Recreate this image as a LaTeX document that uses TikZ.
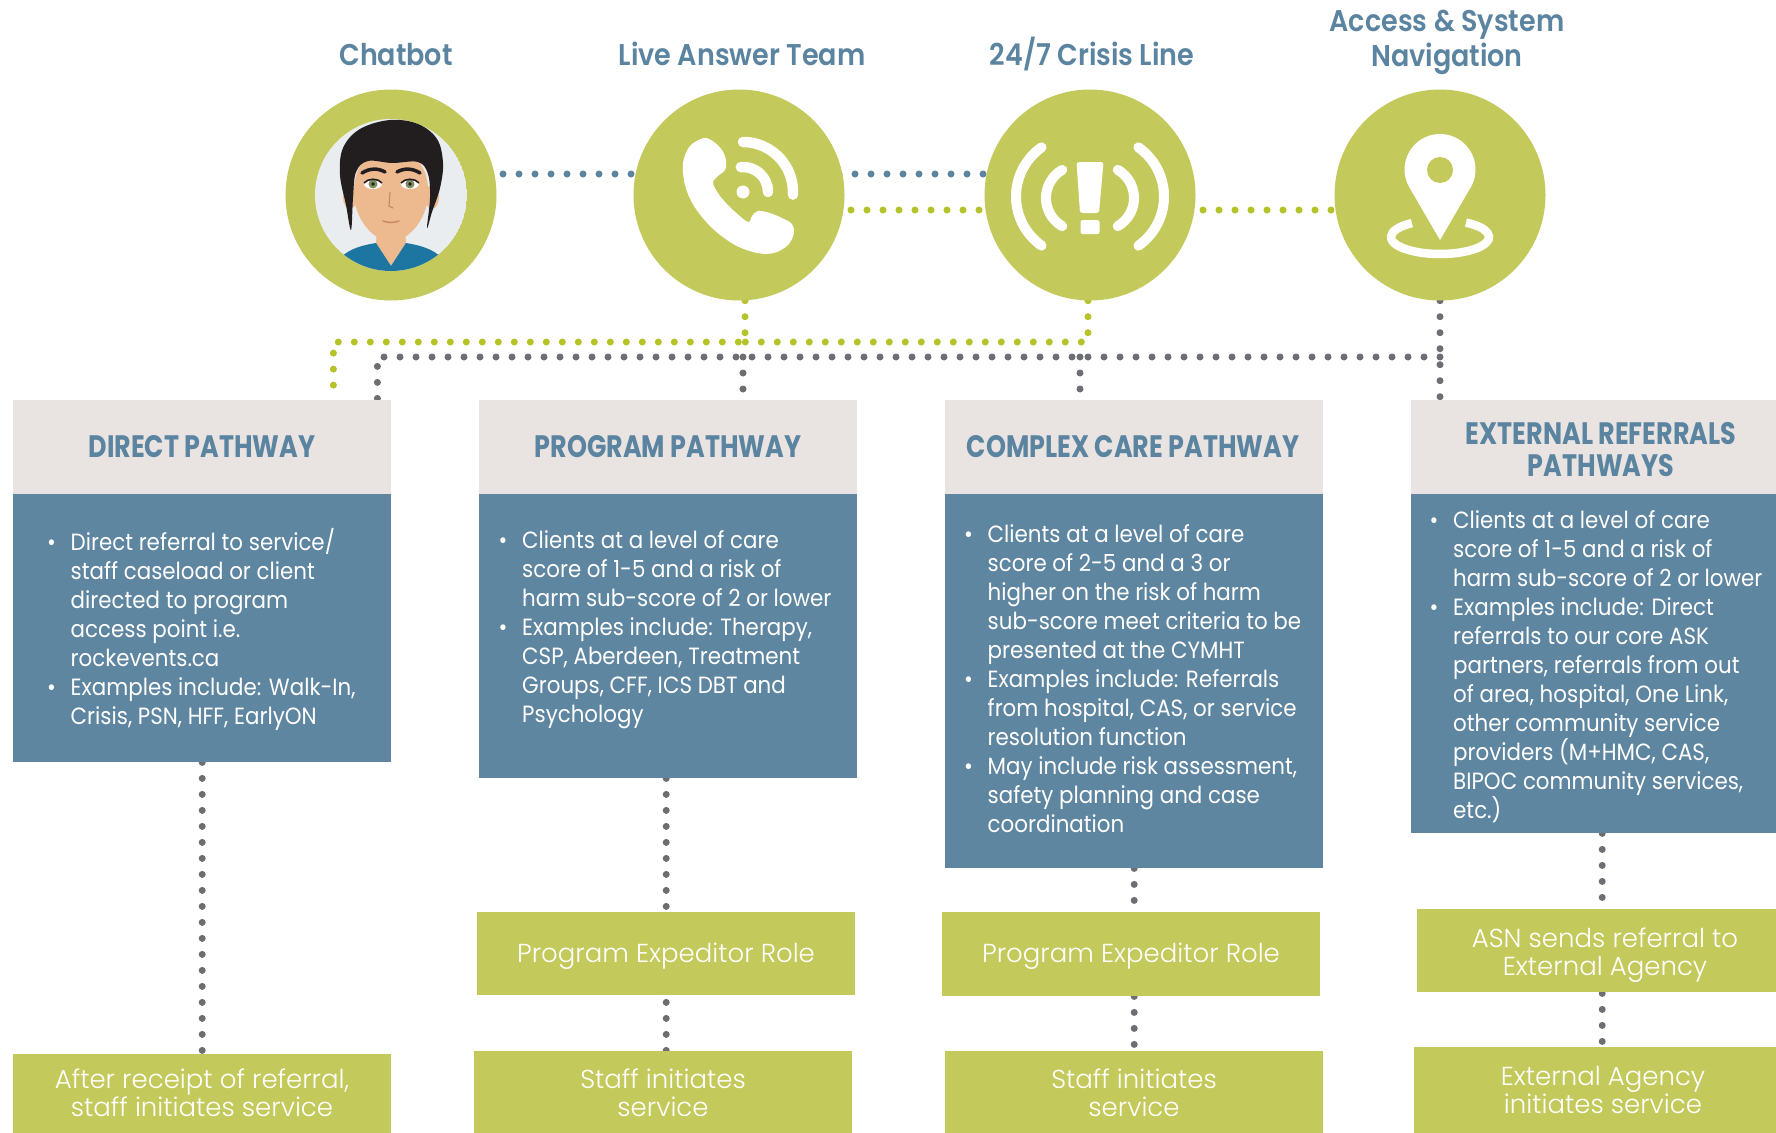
\documentclass[tikz,border=0pt]{standalone}
\usepackage{fontspec}
\setmainfont{Poppins}[UprightFont=* Light, BoldFont=* SemiBold]
\newfontfamily\headfont{Poppins}[UprightFont=* Bold, FakeStretch=0.82]
\newfontfamily\tfont{Poppins}[UprightFont=* SemiBold, FakeStretch=0.9]
\newfontfamily\bodyfont{Poppins}[FakeStretch=0.91]
\setlength{\parindent}{0pt}

\definecolor{leaf}{HTML}{C4C95C}
\definecolor{slate}{HTML}{5E86A0}
\definecolor{titleblue}{HTML}{5B84A0}
\definecolor{mist}{HTML}{E9E4E2}
\definecolor{dotgray}{HTML}{6D6E71}
\definecolor{dotgreen}{HTML}{B5C22A}
\definecolor{dotblue}{HTML}{5B84A0}
\definecolor{skin}{HTML}{EDB98F}
\definecolor{skindark}{HTML}{C98A62}
\definecolor{hair}{HTML}{221E1F}
\definecolor{facebg}{HTML}{E9EDEF}
\definecolor{shirt}{HTML}{1D76A2}
\definecolor{iris}{HTML}{7D8F5E}

\newcommand{\bulitem}{\makebox[23.5pt][l]{•}}
\newcommand{\contind}{\hspace*{23.5pt}}

\pgfdeclarelayer{bottom}
\pgfdeclarelayer{links}
\pgfsetlayers{bottom,links,main}

\tikzset{
  hub/.style={circle, fill=leaf, minimum size=211pt, inner sep=0pt},
  hdrbox/.style={rectangle, fill=mist, minimum width=378pt, minimum height=94pt, inner sep=0pt, anchor=north west},
  bodybox/.style={rectangle, fill=slate, minimum width=378pt, inner sep=0pt, anchor=north west},
  stepbox/.style={rectangle, fill=leaf, minimum width=378pt, inner sep=0pt, anchor=north west},
  dotline/.style={line width=7pt, dash pattern=on 0pt off 16pt, line cap=round},
  iconline/.style={white, line width=10.5pt, line cap=round},
  titletext/.style={anchor=base, inner sep=0pt, text=titleblue, font={\tfont\fontsize{30}{35}\selectfont}},
  hdrtext/.style={anchor=base, inner sep=0pt, text=titleblue, font={\headfont\fontsize{31}{32.7}\selectfont}},
  listtext/.style={anchor=base west, inner sep=0pt, text=white, font={\bodyfont\fontsize{23.5}{29}\selectfont}},
  steptext/.style={anchor=base, inner sep=0pt, text=white, font={\fontsize{26}{28.6}\selectfont}}
}

\begin{document}
\begin{tikzpicture}[x=1pt,y=-1pt]
\useasboundingbox (0,0) rectangle (1776,1132);
\clip (0,0) rectangle (1776,1132);
\begin{pgfonlayer}{bottom}
  \fill[white] (0,0) rectangle (1776,1132);
\end{pgfonlayer}

% ---------- entry points ----------
\node[hub] (chat) at (391,195) {};
\node[hub] (phone) at (739,195) {};
\node[hub] (crisis) at (1090,195) {};
\node[hub] (loc) at (1440,195) {};

\node[titletext] (chat-t) at (396,65) {Chatbot};
\node[titletext] (phone-t) at (742,65) {Live Answer Team};
\node[titletext] (crisis-t) at (1092,65) {24/7 Crisis Line};
\node[titletext] (loc-t) at (1447,31.7) {\begin{tabular}[t]{@{}c@{}}Access \& System\\Navigation\end{tabular}};

% chatbot avatar
\begin{scope}
  \clip (391,195) circle[radius=76];
  \fill[facebg] (391,195) circle[radius=76];
  \fill[skin] (377,220) -- (405,220) -- (406,246) -- (391,266) -- (376,246) -- cycle;
  \fill[shirt] (330,275) -- (340,258) .. controls (350,248) and (364,245) .. (376,243) -- (391,266) -- (406,243) .. controls (418,245) and (432,248) .. (442,258) -- (452,275) -- cycle;
  \fill[skin] (350,197) ellipse[x radius=7, y radius=12];
  \fill[skin] (432,197) ellipse[x radius=7, y radius=12];
  \fill[skin] (391,150) .. controls (418,150) and (429,170) .. (428,195) .. controls (427,220) and (408,241) .. (391,242) .. controls (374,241) and (355,220) .. (354,195) .. controls (353,170) and (364,150) .. (391,150) -- cycle;
  \fill[hair] plot[smooth cycle, tension=0.6] coordinates {(351,230) (346,205) (340,175) (343,148) (360,129) (390,120) (418,124) (437,139) (443,163) (440,188) (432,212) (427,228) (430,198) (428,174) (418,162) (392,163) (368,161) (356,172) (353,198)};
  \draw[hair, line width=3.5pt, line cap=round] (362,173) .. controls (370,168) and (378,168) .. (385,172);
  \draw[hair, line width=3.5pt, line cap=round] (397,172) .. controls (404,168) and (412,168) .. (420,173);
  \fill[white] (373,184) ellipse[x radius=9, y radius=5];
  \fill[white] (410,184) ellipse[x radius=9, y radius=5];
  \fill[iris] (373,184) circle[radius=4.5];
  \fill[iris] (410,184) circle[radius=4.5];
  \fill[hair] (373,184) circle[radius=1.8];
  \fill[hair] (410,184) circle[radius=1.8];
  \draw[hair, line width=1.6pt] (364,183) .. controls (368,178) and (378,178) .. (382,183);
  \draw[hair, line width=1.6pt] (401,183) .. controls (405,178) and (415,178) .. (419,183);
  \draw[skindark, line width=1.2pt] (390,192) -- (389,206) -- (393,208);
  \draw[skindark, line width=1.5pt, line cap=round] (383,221) .. controls (388,223) and (394,223) .. (399,221);
\end{scope}

% phone icon
\fill[white] plot[smooth cycle, tension=0.55] coordinates {(704,138) (690,146) (683,163) (685,185) (694,206) (712,228) (735,245) (757,253) (774,253) (788,245) (794,233) (792,224) (784,219) (770,213) (758,211) (752,216) (748,222) (733,210) (720,196) (713,183) (718,176) (725,170) (726,160) (722,150) (714,142)};
\fill[white] (743,192) circle[radius=6.5];
\draw[iconline] ([shift={(0:25)}]743,192) arc[start angle=0, end angle=-95, radius=25];
\draw[iconline] ([shift={(3:50)}]743,192) arc[start angle=3, end angle=-90, radius=50];

% crisis icon
\draw[iconline, line width=10pt] ([shift={(120:32.5)}]1078.5,198) arc[start angle=120, end angle=240, radius=32.5];
\draw[iconline, line width=10pt] ([shift={(-60:32.5)}]1101.5,198) arc[start angle=-60, end angle=60, radius=32.5];
\draw[iconline, line width=10pt] ([shift={(125:60)}]1076,196.5) arc[start angle=125, end angle=235, radius=60];
\draw[iconline, line width=10pt] ([shift={(-55:60)}]1104,196.5) arc[start angle=-55, end angle=55, radius=60];
\fill[white, rounded corners=2.5pt] (1076.5,162) -- (1103.5,162) -- (1099,213) -- (1080,213) -- cycle;
\fill[white, rounded corners=2pt] (1080.5,220) rectangle (1099.5,234);

% location icon
\fill[white] (1440,240) -- ([shift={(30:35.5)}]1440,169.5) arc[start angle=30, end angle=-210, radius=35.5] -- cycle;
\fill[leaf] (1440,170) circle[radius=13];
\draw[white, line width=8.5pt] ([shift={(-58:49 and 17)}]1440,237) arc[start angle=-58, end angle=235, x radius=49, y radius=17];

% ---------- pathway boxes ----------
\node[hdrbox] (dhdr) at (13,400) {};
\node[bodybox, minimum height=268pt] (dbody) at (13,494) {};
\node[hdrbox] (phdr) at (479,400) {};
\node[bodybox, minimum height=284pt] (pbody) at (479,494) {};
\node[hdrbox] (chdr) at (945,400) {};
\node[bodybox, minimum height=374pt] (cbody) at (945,494) {};
\node[hdrbox] (ehdr) at (1411,400) {};
\node[bodybox, minimum height=339pt] (ebody) at (1411,494) {};

\node[hdrtext] (dhdr-t) at (202,457) {DIRECT PATHWAY};
\node[hdrtext] (phdr-t) at (668,457) {PROGRAM PATHWAY};
\node[hdrtext] (chdr-t) at (1133,457) {COMPLEX CARE PATHWAY};
\node[hdrtext] (ehdr-t) at (1601,444) {\begin{tabular}[t]{@{}c@{}}EXTERNAL REFERRALS\\PATHWAYS\end{tabular}};

\node[listtext] (dbody-t) at (47,550) {\begin{minipage}[t]{400pt}
\bulitem Direct referral to service/\\
\contind staff caseload or client\\
\contind directed to program\\
\contind access point i.e.\\
\contind rockevents.ca\\
\bulitem Examples include: Walk-In,\\
\contind Crisis, PSN, HFF, EarlyON
\end{minipage}};

\node[listtext] (pbody-t) at (498.5,548) {\begin{minipage}[t]{400pt}
\bulitem Clients at a level of care\\
\contind score of 1-5 and a risk of\\
\contind harm sub-score of 2 or lower\\
\bulitem Examples include: Therapy,\\
\contind CSP, Aberdeen, Treatment\\
\contind Groups, CFF, ICS DBT and\\
\contind Psychology
\end{minipage}};

\node[listtext] (cbody-t) at (964,542) {\begin{minipage}[t]{400pt}
\bulitem Clients at a level of care\\
\contind score of 2-5 and a 3 or\\
\contind higher on the risk of harm\\
\contind sub-score meet criteria to be\\
\contind presented at the CYMHT\\
\bulitem Examples include: Referrals\\
\contind from hospital, CAS, or service\\
\contind resolution function\\
\bulitem May include risk assessment,\\
\contind safety planning and case\\
\contind coordination
\end{minipage}};

\node[listtext] (ebody-t) at (1429.5,528) {\begin{minipage}[t]{400pt}
\bulitem Clients at a level of care\\
\contind score of 1-5 and a risk of\\
\contind harm sub-score of 2 or lower\\
\bulitem Examples include: Direct\\
\contind referrals to our core ASK\\
\contind partners, referrals from out\\
\contind of area, hospital, One Link,\\
\contind other community service\\
\contind providers (M+HMC, CAS,\\
\contind BIPOC community services,\\
\contind etc.)
\end{minipage}};

% ---------- next steps ----------
\node[stepbox, minimum height=90pt] (dfin) at (13,1054) {};
\node[stepbox, minimum height=83pt] (pexp) at (477,912) {};
\node[stepbox, minimum height=90pt] (pstaff) at (474,1051) {};
\node[stepbox, minimum height=84pt] (cexp) at (942,912) {};
\node[stepbox, minimum height=90pt] (cstaff) at (945,1051) {};
\node[stepbox, minimum height=83pt] (asn) at (1417,909) {};
\node[stepbox, minimum height=90pt] (eag) at (1414,1047) {};

\node[steptext] (dfin-t) at (202,1088) {\begin{tabular}[t]{@{}c@{}}After receipt of referral,\\staff initiates service\end{tabular}};
\node[steptext] (pexp-t) at (666,962) {Program Expeditor Role};
\node[steptext] (pstaff-t) at (663,1088) {\begin{tabular}[t]{@{}c@{}}Staff initiates\\service\end{tabular}};
\node[steptext] (cexp-t) at (1131,962) {Program Expeditor Role};
\node[steptext] (cstaff-t) at (1134,1088) {\begin{tabular}[t]{@{}c@{}}Staff initiates\\service\end{tabular}};
\node[steptext] (asn-t) at (1605,947) {\begin{tabular}[t]{@{}c@{}}ASN sends referral to\\External Agency\end{tabular}};
\node[steptext] (eag-t) at (1603,1085) {\begin{tabular}[t]{@{}c@{}}External Agency\\initiates service\end{tabular}};

% ---------- dotted connectors ----------
\coordinate (gjoin) at (745,342);
\coordinate (kjoin) at (1440,357);
\begin{pgfonlayer}{links}
  \draw[dotline, dotblue] ([yshift=21pt]chat.center) -- ([yshift=21pt]crisis.center);
  \draw[dotline, dotgreen] ([yshift=-15pt]phone.center) -- ([yshift=-15pt]loc.center);
  \draw[dotline, dotgreen] ([xshift=6pt]phone.south) -- (gjoin) -| ([xshift=-58pt]dhdr.north east);
  \draw[dotline, dotgreen] ([xshift=-2pt]crisis.south) |- (gjoin);
  \draw[dotline, dotgray] (loc.south) -- ([xshift=29pt]ehdr.north west);
  \draw[dotline, dotgray] (kjoin) -| ([xshift=-14pt]dhdr.north east);
  \draw[dotline, dotgray] ([xshift=264pt]phdr.north west |- kjoin) -- ([xshift=264pt]phdr.north west);
  \draw[dotline, dotgray] ([xshift=135pt]chdr.north west |- kjoin) -- ([xshift=135pt]chdr.north west);
  \draw[dotline, dotgray] (dbody.south) -- (dfin.north);
  \draw[dotline, dotgray] ([xshift=-2pt]pbody.south) -- ([xshift=-2pt]pbody.south |- pstaff.north);
  \draw[dotline, dotgray] (cbody.south) -- (cbody.south |- cstaff.north);
  \draw[dotline, dotgray] ([xshift=2pt]ebody.south) -- ([xshift=2pt]ebody.south |- eag.north);
\end{pgfonlayer}
\end{tikzpicture}
\end{document}
